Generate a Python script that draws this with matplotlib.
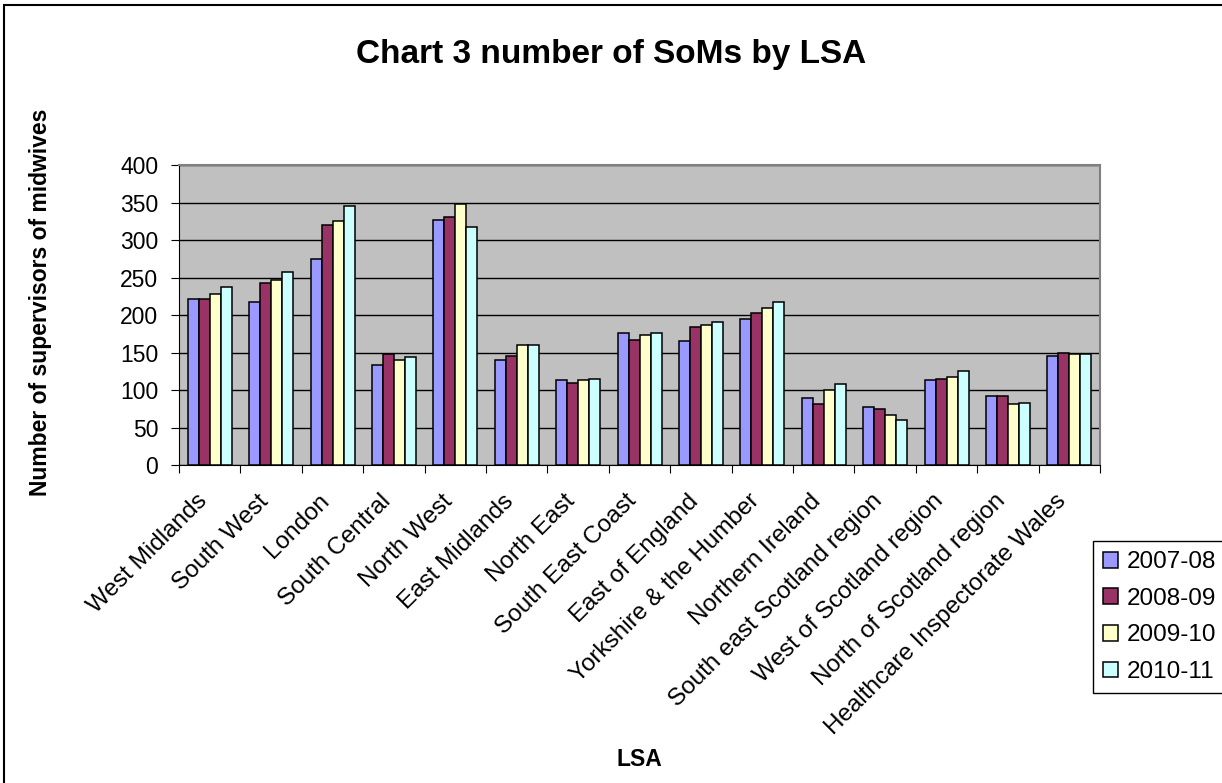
import numpy as np
import matplotlib.pyplot as plt
from matplotlib.patches import Rectangle
from matplotlib.transforms import ScaledTranslation

plt.rcParams['font.family'] = ['Liberation Sans', 'DejaVu Sans']

regions = ['West Midlands', 'South West', 'London', 'South Central', 'North West',
           'East Midlands', 'North East', 'South East Coast', 'East of England',
           'Yorkshire & the Humber', 'Northern Ireland', 'South east Scotland region',
           'West of Scotland region', 'North of Scotland region',
           'Healthcare Inspectorate Wales']
years = ['2007-08', '2008-09', '2009-10', '2010-11']
soms_0708 = [222, 218, 275, 133, 327, 140, 113, 176, 165, 195, 89, 78, 113, 92, 146]
soms_0809 = [222, 243, 320, 148, 331, 146, 110, 167, 184, 203, 81, 75, 115, 92, 150]
soms_0910 = [228, 247, 325, 140, 348, 160, 113, 174, 187, 210, 100, 67, 117, 81, 148]
soms_1011 = [237, 258, 345, 144, 318, 160, 115, 176, 191, 218, 108, 60, 125, 83, 148]
series = [soms_0708, soms_0809, soms_0910, soms_1011]
colours = ['#9999FF', '#993366', '#FFFFCC', '#CCFFFF']

fig = plt.figure(figsize=(12.22, 7.83), dpi=100)
ax = fig.add_axes([0.1465, 0.406, 0.7537, 0.383])
ax.set_facecolor('#C0C0C0')

x = np.arange(len(regions))
w = 0.179
for i, (vals, col) in enumerate(zip(series, colours)):
    ax.bar(x + (i - 1.5) * w, vals, w, color=col, edgecolor='black',
           linewidth=1.1, label=years[i], zorder=3)

ax.set_xlim(-0.5, len(regions) - 0.5)
ax.set_ylim(0, 400)
ax.set_yticks(range(0, 401, 50))
ax.yaxis.grid(True, color='black', linewidth=1, zorder=1)
ax.set_axisbelow(True)
ax.tick_params(axis='y', labelsize=16.5, length=6, direction='out', pad=9)

# ticks between categories, labels at the centres
ax.set_xticks(np.arange(-0.5, len(regions), 1))
ax.set_xticklabels([])
ax.set_xticks(x, minor=True)
ax.set_xticklabels(regions, minor=True, rotation=45, ha='right', va='top',
                   rotation_mode='anchor', fontsize=17.5)
ax.tick_params(axis='x', which='minor', length=0, pad=18)
ax.tick_params(axis='x', which='major', length=6, direction='out')
shift = ScaledTranslation(-14 / 100, 0, fig.dpi_scale_trans)
for lbl in ax.get_xticklabels(minor=True):
    lbl.set_transform(lbl.get_transform() + shift)

for side in ['top', 'right']:
    ax.spines[side].set_color('#808080')
    ax.spines[side].set_linewidth(1.5)
ax.spines['left'].set_color('black')
ax.spines['bottom'].set_color('black')

fig.text(0.5, 0.93, 'Chart 3 number of SoMs by LSA', ha='center', va='center',
         fontsize=24, fontweight='bold')
fig.text(0.0335, 0.614, 'Number of supervisors of midwives', rotation=90,
         ha='center', va='center', fontsize=16.5, fontweight='bold')
fig.text(0.523, 0.03, 'LSA', ha='center', va='center', fontsize=16.5, fontweight='bold')

leg = fig.legend(loc='upper left', bbox_to_anchor=(0.8944, 0.309), fontsize=17.5,
                 frameon=True, fancybox=False, edgecolor='black', borderaxespad=0,
                 handlelength=0.62, handleheight=0.62, handletextpad=0.33,
                 labelspacing=0.6, borderpad=0.42)
leg.get_frame().set_linewidth(1)
leg.get_frame().set_alpha(None)

fig.patches.append(Rectangle((4 / 1222, -0.1), 1.2, 1.1 - 5 / 783,
                             transform=fig.transFigure, fill=False,
                             edgecolor='black', linewidth=1.5))

fig.savefig('out.png', dpi=100)
